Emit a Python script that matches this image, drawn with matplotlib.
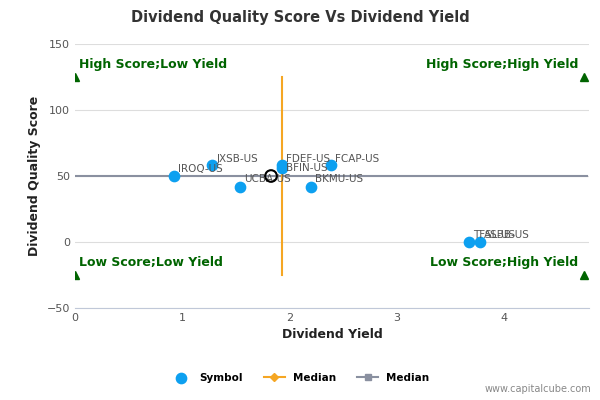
import matplotlib.pyplot as plt

symbols = ["IROQ-US", "JXSB-US", "UCBA-US", "FDEF-US", "BFIN-US", "FCAP-US", "BKMU-US", "TFSL-US", "ASBB-US"]
yields = [0.92, 1.28, 1.54, 1.93, 1.93, 2.39, 2.20, 3.68, 3.78]
scores = [50, 58, 42, 58, 56, 58, 42, 0, 0]
median_yield = 1.93
median_score = 50
median_point = (1.83, 50)

blue = "#0da0f0"
fig = plt.figure(figsize=(6, 4), dpi=100)
ax = fig.add_axes([0.125, 0.23, 0.857, 0.66])

ax.plot([0, 4.78], [median_score, median_score], color="#8a90a0", lw=1.5, zorder=1)
ax.plot([median_yield, median_yield], [-25, 125], color="#f5a623", lw=1.5, zorder=2)
ax.scatter(yields, scores, s=55, color=blue, zorder=3)
ax.scatter([median_point[0]], [median_point[1]], s=70, facecolor="none", edgecolor="black", lw=1.5, zorder=4)

label_dy = {"BFIN-US": 0, "UCBA-US": 6, "BKMU-US": 6}
for s, x, y in zip(symbols, yields, scores):
    ax.text(x + 0.04, y + label_dy.get(s, 5), s, fontsize=7.5, color="#555555", va="center")

green = "#006400"
for x, y in [(0, 125), (4.75, 125), (0, -25), (4.75, -25)]:
    ax.plot(x, y, marker="^", color=green, ms=6, zorder=5)
ax.text(0.04, 132, "High Score;Low Yield", color=green, fontsize=9, fontweight="bold")
ax.text(4.7, 132, "High Score;High Yield", color=green, fontsize=9, fontweight="bold", ha="right")
ax.text(0.04, -18, "Low Score;Low Yield", color=green, fontsize=9, fontweight="bold")
ax.text(4.7, -18, "Low Score;High Yield", color=green, fontsize=9, fontweight="bold", ha="right")

ax.set_xlim(0, 4.8)
ax.set_ylim(-50, 150)
ax.set_xticks([0, 1, 2, 3, 4])
ax.set_yticks([-50, 0, 50, 100, 150])
ax.tick_params(labelsize=8, colors="#555555", length=0)
ax.grid(axis="y", color="#dddddd", lw=0.8)
ax.set_axisbelow(True)
for sp in ["top", "right", "left"]:
    ax.spines[sp].set_visible(False)
ax.spines["bottom"].set_color("#c0c8d8")
ax.set_xlabel("Dividend Yield", fontsize=9, fontweight="bold", color="#222222")
ax.set_ylabel("Dividend Quality Score", fontsize=9, fontweight="bold", color="#222222")
fig.suptitle("Dividend Quality Score Vs Dividend Yield", x=0.5, y=0.975, fontsize=10.5, fontweight="bold", color="#333333")

h1 = ax.scatter([], [], s=55, color=blue)
h2, = ax.plot([], [], color="#f5a623", marker="D", ms=4)
h3, = ax.plot([], [], color="#8a90a0", marker="s", ms=5)
fig.legend([h1, h2, h3], ["Symbol", "Median", "Median"], loc="lower center", bbox_to_anchor=(0.5, 0.02),
           ncol=3, frameon=False, prop={"size": 7.5, "weight": "bold"})
fig.text(0.985, 0.02, "www.capitalcube.com", ha="right", fontsize=7, color="#888888")

fig.savefig("out.png")
